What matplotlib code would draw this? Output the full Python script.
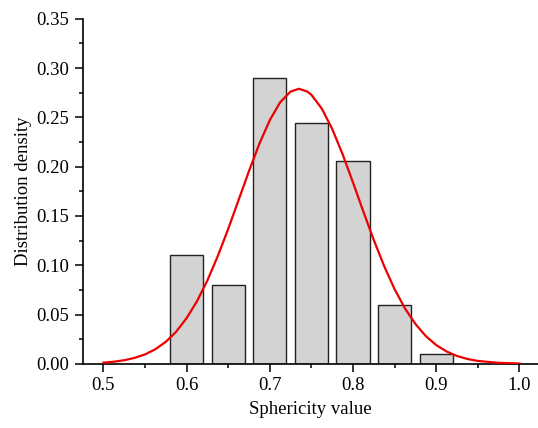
import numpy as np
import matplotlib.pyplot as plt
from matplotlib.ticker import MultipleLocator, FormatStrFormatter

plt.rcParams['font.family'] = ['Liberation Serif', 'DejaVu Serif']

# histogram bins (centre) and heights
bin_centres = [0.60, 0.65, 0.70, 0.75, 0.80, 0.85, 0.90]
bin_heights = [0.110, 0.080, 0.290, 0.244, 0.206, 0.060, 0.010]

# fitted curve
curve_x = [0.5000, 0.5125, 0.5250, 0.5375, 0.5500, 0.5625, 0.5750, 0.5875,
           0.6000, 0.6125, 0.6250, 0.6375, 0.6500, 0.6625, 0.6750, 0.6875,
           0.7000, 0.7125, 0.7250, 0.7350, 0.7450, 0.7500, 0.7625, 0.7750,
           0.7875, 0.8000, 0.8125, 0.8250, 0.8375, 0.8500, 0.8625, 0.8750,
           0.8875, 0.9000, 0.9125, 0.9250, 0.9375, 0.9500, 0.9750, 1.0000]
curve_y = [0.0012, 0.0021, 0.0036, 0.0060, 0.0095, 0.0148, 0.0223, 0.0326,
           0.0463, 0.0635, 0.0846, 0.1093, 0.1368, 0.1662, 0.1956, 0.2233,
           0.2472, 0.2654, 0.2762, 0.2790, 0.2762, 0.2729, 0.2589, 0.2383,
           0.2126, 0.1839, 0.1543, 0.1255, 0.0990, 0.0757, 0.0561, 0.0404,
           0.0281, 0.0190, 0.0125, 0.0079, 0.0049, 0.0029, 0.0010, 0.0003]

fig = plt.figure(figsize=(5.38, 4.28), dpi=100)
ax = fig.add_axes([0.1535, 0.150, 0.846, 0.806])

ax.bar(bin_centres, bin_heights, width=0.04, color='#d3d3d3',
       edgecolor='#222222', linewidth=1.0, zorder=2)
ax.plot(curve_x, curve_y, color='#ee0000', linewidth=1.6, zorder=3)

ax.set_xlim(0.475, 1.022)
ax.set_ylim(0, 0.35)
ax.xaxis.set_major_locator(MultipleLocator(0.1))
ax.xaxis.set_minor_locator(MultipleLocator(0.05))
ax.yaxis.set_major_locator(MultipleLocator(0.05))
ax.yaxis.set_minor_locator(MultipleLocator(0.025))
ax.xaxis.set_major_formatter(FormatStrFormatter('%.1f'))
ax.yaxis.set_major_formatter(FormatStrFormatter('%.2f'))

for s in ['top', 'right']:
    ax.spines[s].set_visible(False)
for s in ['left', 'bottom']:
    ax.spines[s].set_linewidth(1.2)

ax.tick_params(which='major', direction='out', length=6, width=1.1, labelsize=13.5)
ax.tick_params(which='minor', direction='out', length=3, width=1.1)

ax.set_xlabel('Sphericity value', fontsize=13.5, labelpad=5)
ax.set_ylabel('Distribution density', fontsize=13.5, labelpad=3)

fig.savefig('out.png', dpi=100)
